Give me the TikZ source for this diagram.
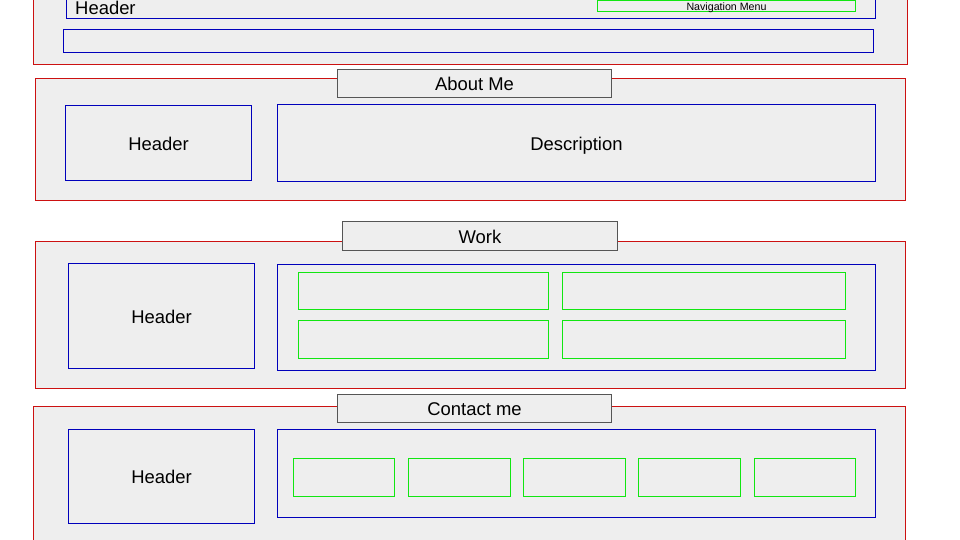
\documentclass[tikz,border=0pt]{standalone}
\usepackage{fontspec}
\setmainfont{Liberation Sans}
\definecolor{sectred}{HTML}{CC1111}
\definecolor{boxblue}{HTML}{0000BB}
\definecolor{itemgreen}{HTML}{11E611}
\definecolor{pagefill}{HTML}{EEEEEE}
\definecolor{titlegray}{HTML}{555555}
\begin{document}
\begin{tikzpicture}[x=1bp, y=-1bp,
  section/.style = {draw = sectred, fill = pagefill, line width = 1.2bp, inner sep = 0pt},
  block/.style = {draw = boxblue, fill = pagefill, line width = 1.2bp, inner sep = 0pt, font = \fontsize{18.5}{20}\selectfont, text height = 15pt, text depth = 0pt},
  item/.style = {draw = itemgreen, fill = pagefill, line width = 1.2bp, inner sep = 0pt},
  tab/.style = {draw = titlegray, fill = pagefill, line width = 1.2bp, inner sep = 0pt, font = \fontsize{18.5}{20}\selectfont, text height = 15pt, text depth = 0pt}]
\useasboundingbox (0,0) rectangle (960,540);
\clip (0,0) rectangle (960,540);
% top
\node[section, minimum width = 874bp, minimum height = 84bp] (topsec) at (470.5,22.5) {};
\node[block, minimum width = 809bp, minimum height = 38bp] (topbar) at (471,-0.5) {};
\node[item, minimum width = 258bp, minimum height = 11bp, font = \fontsize{10.7}{11}\selectfont, text height = 8.5pt, text depth = 0pt] (nav) at (726.5,6) {Navigation Menu};
\node[anchor = west, inner sep = 0pt, font = \fontsize{18.5}{20}\selectfont] (toplogo) at (75,8) {Header};
\node[block, minimum width = 810bp, minimum height = 23bp] (subbar) at (468.5,41) {};
% about
\node[section, minimum width = 870bp, minimum height = 122bp] (about) at (470.5,139.5) {};
\node[tab, minimum width = 274bp, minimum height = 28bp] (abouttab) at (474.5,83.5) {About Me};
\node[block, minimum width = 186bp, minimum height = 75bp] (aboutheader) at (158.5,143) {Header};
\node[block, minimum width = 598bp, minimum height = 77bp] (aboutdesc) at (576.5,143) {Description};
% work
\node[section, minimum width = 870bp, minimum height = 147bp] (work) at (470.5,315) {};
\node[tab, minimum width = 275bp, minimum height = 29bp] (worktab) at (480,236) {Work};
\node[block, minimum width = 186bp, minimum height = 105bp] (workheader) at (161.5,316) {Header};
\node[block, minimum width = 598bp, minimum height = 106bp] (workgrid) at (576.5,317.5) {};
\foreach \y/\h [count=\r] in {291/37, 339.5/38} {
  \node[item, minimum width = 250bp, minimum height = \h bp] (work\r a) at (423.5,\y) {};
  \node[item, minimum width = 283bp, minimum height = \h bp] (work\r b) at (704,\y) {};
}
% contact
\node[section, minimum width = 872bp, minimum height = 154bp] (contact) at (469.5,483.5) {};
\node[tab, minimum width = 274bp, minimum height = 28bp] (contacttab) at (474.5,408.5) {Contact me};
\node[block, minimum width = 186bp, minimum height = 94bp] (contactheader) at (161.5,476.5) {Header};
\node[block, minimum width = 598bp, minimum height = 88bp] (contactrow) at (576.5,473.5) {};
\foreach \x/\w [count=\i] in {344/101, 459.5/102, 574.5/102, 689.5/102, 805/101}
  \node[item, minimum width = \w bp, minimum height = 38bp] (contact\i) at (\x,477.5) {};
\end{tikzpicture}
\end{document}
